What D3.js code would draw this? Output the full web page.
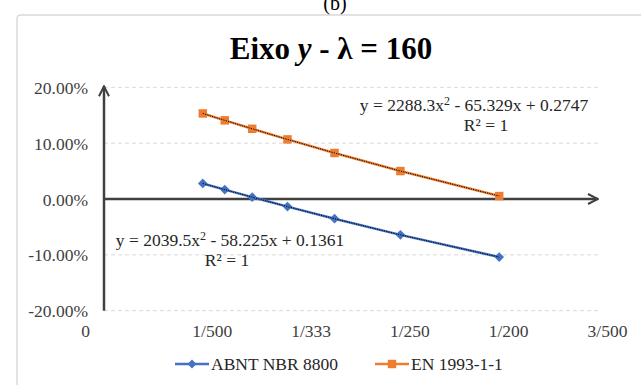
<!DOCTYPE html>
<html>
<head>
<meta charset="utf-8">
<script src="https://cdn.jsdelivr.net/npm/d3@7"></script>
<style>
  html, body { margin: 0; padding: 0; background: #fff; }
  svg { display: block; }
  svg text { font-family: "Liberation Serif", "DejaVu Serif", serif !important; }
</style>
</head>
<body>
<svg id="chart" width="641" height="385"></svg>
<script>
// ---- data ----
const xValues = [1/500, 1/450, 1/400, 1/350, 1/300, 1/250, 1/200];
const abntValues = [0.0278, 0.0168, 0.0033, -0.0136, -0.0353, -0.0642, -0.1040];
const enValues = [0.1532, 0.1408, 0.1257, 0.1067, 0.0824, 0.0500, 0.0053];
const seriesNames = ["ABNT NBR 8800", "EN 1993-1-1"];
const xTickValues = [0.001, 0.002, 0.003, 0.004, 0.005, 0.006];
const xTickLabels = ["0", "1/500", "1/333", "1/250", "1/200", "3/500"];
const yTickValues = [-0.2, -0.1, 0, 0.1, 0.2];
const eqAbnt = ["y = 2039.5x", "2", " - 58.225x + 0.1361"];
const eqEn = ["y = 2288.3x", "2", " - 65.329x + 0.2747"];

const svg = d3.select("#chart");
const blue = "#4472C4", orange = "#ED7D31", axisCol = "#404040";
const FS = 17.5;

// border
svg.append("path")
  .attr("d", "M17,390 L17,19 Q17,15 21,15 L650,15")
  .attr("fill", "none").attr("stroke", "#d9d9d9").attr("stroke-width", 1.5);

svg.append("text").attr("x", 335).attr("y", 10).attr("text-anchor", "middle")
  .attr("font-size", 20).attr("fill", "#000").text("(b)");

const x = d3.scaleLinear().domain([0.001, 0.006]).range([104, 598]);
const y = d3.scaleLinear().domain([-0.2, 0.2]).range([310.7, 87.3]);

// gridlines
svg.append("g").selectAll("line").data(yTickValues.filter(v => v !== 0)).join("line")
  .attr("x1", x(0.001)).attr("x2", x(0.006))
  .attr("y1", d => y(d)).attr("y2", d => y(d))
  .attr("stroke", "#d9d9d9").attr("stroke-width", 1).attr("stroke-dasharray", "4,3");

// y tick labels
const yAxis = d3.axisLeft(y).tickValues(yTickValues).tickSize(0).tickPadding(0)
  .tickFormat(d => (d * 100).toFixed(2) + "%");
const gy = svg.append("g").attr("transform", "translate(88,0)").call(yAxis);
gy.attr("font-family", null).attr("font-size", null);
gy.select(".domain").remove();
gy.selectAll("text").attr("font-size", FS).attr("fill", axisCol).attr("dy", "0.35em");

// x tick labels
const xAxis = d3.axisBottom(x).tickValues(xTickValues).tickSize(0).tickPadding(0)
  .tickFormat((d, i) => xTickLabels[i]);
const gx = svg.append("g").attr("transform", "translate(0,325)").call(xAxis);
gx.attr("font-family", null).attr("font-size", null);
gx.select(".domain").remove();
gx.selectAll("text").attr("font-size", FS).attr("fill", axisCol)
  .attr("dx", (d, i) => i === 0 ? -19 : 9);

// axis arrows
const defs = svg.append("defs");
defs.append("marker").attr("id", "arr").attr("viewBox", "0 0 10 10")
  .attr("refX", 9).attr("refY", 5).attr("markerWidth", 5).attr("markerHeight", 5)
  .attr("markerUnits", "strokeWidth").attr("orient", "auto")
  .append("path").attr("d", "M1,1 L9,5 L1,9").attr("fill", "none")
  .attr("stroke", axisCol).attr("stroke-width", 1.6);

svg.append("line").attr("x1", x(0.001)).attr("x2", x(0.001))
  .attr("y1", y(-0.2)).attr("y2", y(0.2) - 1)
  .attr("stroke", axisCol).attr("stroke-width", 2.5).attr("marker-end", "url(#arr)");
svg.append("line").attr("x1", x(0.001)).attr("x2", x(0.006))
  .attr("y1", y(0)).attr("y2", y(0))
  .attr("stroke", axisCol).attr("stroke-width", 2.5).attr("marker-end", "url(#arr)");

// series
const line = d3.line().x(d => x(d[0])).y(d => y(d[1]));
const abnt = xValues.map((v, i) => [v, abntValues[i]]);
const en = xValues.map((v, i) => [v, enValues[i]]);

function drawSeries(data, color, shape) {
  svg.append("path").datum(data).attr("d", line).attr("fill", "none")
    .attr("stroke", color).attr("stroke-width", 2.5);
  const sym = shape === "diamond"
    ? d3.symbol().type(d3.symbolDiamond2).size(60)
    : d3.symbol().type(d3.symbolSquare).size(72);
  svg.append("g").selectAll("path").data(data).join("path")
    .attr("transform", d => `translate(${x(d[0])},${y(d[1])})`)
    .attr("d", sym).attr("fill", color);
  // trendline (dotted black)
  svg.append("path").datum(data).attr("d", line).attr("fill", "none")
    .attr("stroke", "#000").attr("stroke-width", 1).attr("stroke-dasharray", "1.2,1.2");
}
drawSeries(abnt, blue, "diamond");
drawSeries(en, orange, "square");

// equations
function equation(xc, yb, parts) {
  const t = svg.append("text").attr("x", xc).attr("y", yb).attr("text-anchor", "middle")
    .attr("font-size", FS).attr("fill", "#262626");
  t.append("tspan").text(parts[0]);
  t.append("tspan").attr("dy", -6).attr("font-size", 12).text(parts[1]);
  t.append("tspan").attr("dy", 6).text(parts[2]);
}
equation(474, 111, eqEn);
svg.append("text").attr("x", 486).attr("y", 131).attr("text-anchor", "middle")
  .attr("font-size", FS).attr("fill", "#262626").text("R² = 1");
equation(230, 246, eqAbnt);
svg.append("text").attr("x", 227).attr("y", 266).attr("text-anchor", "middle")
  .attr("font-size", FS).attr("fill", "#262626").text("R² = 1");

// title
const title = svg.append("text").attr("x", 331).attr("y", 59).attr("text-anchor", "middle")
  .attr("font-size", 31).attr("font-weight", "bold").attr("fill", "#000");
title.append("tspan").text("Eixo ");
title.append("tspan").attr("font-style", "italic").text("y");
title.append("tspan").text(" - λ = 160");

// legend
const legend = [
  { name: seriesNames[0], color: blue, shape: "diamond", x0: 175 },
  { name: seriesNames[1], color: orange, shape: "square", x0: 375 }
];
const ly = 364;
legend.forEach(l => {
  svg.append("line").attr("x1", l.x0).attr("x2", l.x0 + 34).attr("y1", ly).attr("y2", ly)
    .attr("stroke", l.color).attr("stroke-width", 2.5);
  const sym = l.shape === "diamond"
    ? d3.symbol().type(d3.symbolDiamond2).size(50)
    : d3.symbol().type(d3.symbolSquare).size(72);
  svg.append("path").attr("transform", `translate(${l.x0 + 17},${ly})`).attr("d", sym)
    .attr("fill", l.color);
  svg.append("text").attr("x", l.x0 + 36).attr("y", ly + 6).attr("font-size", FS)
    .attr("fill", "#262626").text(l.name);
});
</script>
</body>
</html>
